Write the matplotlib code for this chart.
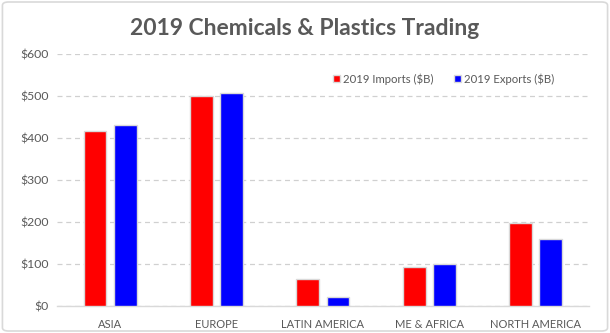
import matplotlib.pyplot as plt
import numpy as np
from matplotlib.patches import FancyBboxPatch

regions = ["ASIA", "EUROPE", "LATIN AMERICA", "ME & AFRICA", "NORTH AMERICA"]
imports_b = [417, 500, 64, 93, 198]
exports_b = [431, 507, 22, 99, 160]
y_ticks = [0, 100, 200, 300, 400, 500, 600]
y_tick_labels = ["$0", "$100", "$200", "$300", "$400", "$500", "$600"]

plt.rcParams['font.family'] = ['Lato', 'DejaVu Sans']
text_color = "#595959"

fig = plt.figure(figsize=(6.1, 3.33), dpi=100)
fig.patch.set_facecolor("white")

# outer chart border
border = FancyBboxPatch((0.004, 0.006), 0.992, 0.988, boxstyle="round,pad=0,rounding_size=0.01",
                        transform=fig.transFigure, facecolor="white", edgecolor="#D9D9D9",
                        linewidth=1.2, zorder=-10)
fig.patches.append(border)

ax = fig.add_axes([0.0934, 0.081, 0.872, 0.757])
x = np.arange(len(regions))
w = 0.215
off = 0.142
ax.bar(x - off, imports_b, w, color="#FF0000", edgecolor="#D9D9D9", linewidth=1.0,
       label="2019 Imports ($B)", zorder=3)
ax.bar(x + off, exports_b, w, color="#0000FF", edgecolor="#D9D9D9", linewidth=1.0,
       label="2019 Exports ($B)", zorder=3)

ax.set_xlim(-0.5, len(regions) - 0.5)
ax.set_ylim(0, 600)
ax.set_yticks(y_ticks)
ax.set_yticklabels(y_tick_labels)
ax.set_xticks(x)
ax.set_xticklabels(regions)
ax.yaxis.grid(True, color="#D0D0D0", linestyle=(0, (4, 3)), linewidth=0.9, zorder=0)
ax.set_axisbelow(True)
for s in ["top", "right", "left"]:
    ax.spines[s].set_visible(False)
ax.spines["bottom"].set_color("#D9D9D9")
ax.spines["bottom"].set_linewidth(1.0)
ax.tick_params(axis="both", length=0, colors=text_color, labelsize=8)
ax.tick_params(axis="y", labelsize=8.8, pad=6)
ax.tick_params(axis="x", pad=9)

fig.text(0.5, 0.915, "2019 Chemicals & Plastics Trading", ha="center", va="center",
         fontsize=16.5, fontweight="bold", color=text_color)

leg = ax.legend(loc="upper right", bbox_to_anchor=(0.955, 0.965), ncol=2, frameon=False,
                fontsize=8.2, handlelength=0.6, handleheight=0.6, handletextpad=0.3,
                columnspacing=1.8, labelcolor=text_color)

fig.savefig("out.png", dpi=100)
